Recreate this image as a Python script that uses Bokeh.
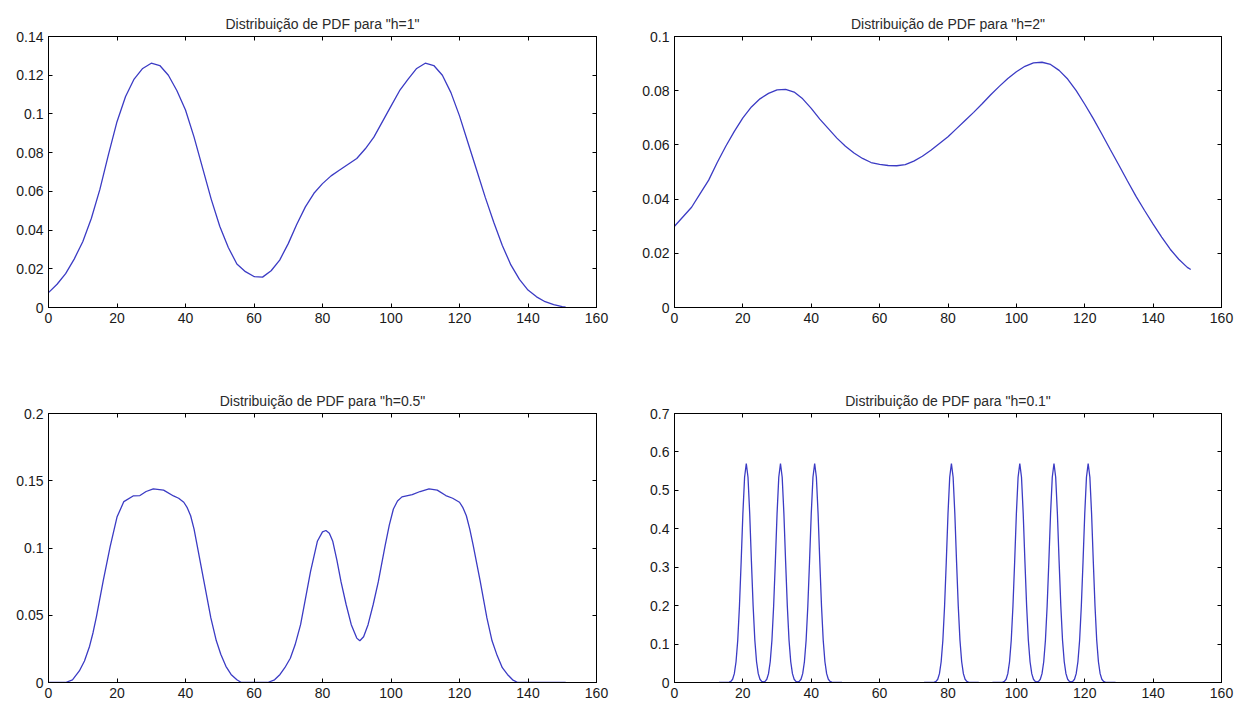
import numpy as np
from bokeh.plotting import figure
from bokeh.models import LinearAxis, FixedTicker, CustomJSTickFormatter, Range1d
from bokeh.layouts import gridplot
from bokeh.embed import file_html
from bokeh.resources import INLINE

# ---------------- data ----------------
x_ticks = [0, 20, 40, 60, 80, 100, 120, 140, 160]

titles = ['Distribuição de PDF para "h=1"', 'Distribuição de PDF para "h=2"',
          'Distribuição de PDF para "h=0.5"', 'Distribuição de PDF para "h=0.1"']

# h = 1
h1_x = [0, 2.5, 5, 7.5, 10, 12.5, 15, 17.5, 20, 22.5, 25, 27.5, 30, 32.5, 35, 37.5,
        40, 42.5, 45, 47.5, 50, 52.5, 55, 57.5, 60, 62.5, 65, 67.5, 70, 72.5, 75, 77.5,
        80, 82.5, 85, 87.5, 90, 92.5, 95, 97.5, 100, 102.5, 105, 107.5, 110, 112.5,
        115, 117.5, 120, 122.5, 125, 127.5, 130, 132.5, 135, 137.5, 140, 142.5, 145,
        147.5, 150, 151]
h1_y = [0.0077, 0.012, 0.0175, 0.025, 0.034, 0.046, 0.061, 0.079, 0.096, 0.109, 0.118,
        0.1235, 0.1262, 0.125, 0.120, 0.112, 0.102, 0.088, 0.072, 0.056, 0.042, 0.031,
        0.0225, 0.0185, 0.016, 0.0157, 0.019, 0.0245, 0.033, 0.043, 0.052, 0.059,
        0.064, 0.068, 0.071, 0.074, 0.077, 0.082, 0.088, 0.096, 0.104, 0.112, 0.118,
        0.1235, 0.1262, 0.125, 0.120, 0.111, 0.099, 0.085, 0.071, 0.057, 0.044, 0.032,
        0.022, 0.0145, 0.009, 0.0055, 0.003, 0.0015, 0.0005, 0.0002]

# h = 2
h2_x = [0, 2.5, 5, 7.5, 10, 12.5, 15, 17.5, 20, 22.5, 25, 27.5, 30, 32.5, 35, 37.5,
        40, 42.5, 45, 47.5, 50, 52.5, 55, 57.5, 60, 62.5, 65, 67.5, 70, 72.5, 75, 77.5,
        80, 82.5, 85, 87.5, 90, 92.5, 95, 97.5, 100, 102.5, 105, 107.5, 110, 112.5,
        115, 117.5, 120, 122.5, 125, 127.5, 130, 132.5, 135, 137.5, 140, 142.5, 145,
        147.5, 150, 151]
h2_y = [0.030, 0.0335, 0.037, 0.042, 0.047, 0.0535, 0.0595, 0.065, 0.070, 0.074, 0.077,
        0.079, 0.0803, 0.0805, 0.0795, 0.077, 0.0735, 0.0695, 0.066, 0.0625, 0.0595,
        0.057, 0.055, 0.0535, 0.0528, 0.0524, 0.0523, 0.0527, 0.054, 0.0558, 0.058,
        0.0605, 0.063, 0.066, 0.069, 0.072, 0.0752, 0.0785, 0.0816, 0.0845, 0.0870,
        0.0890, 0.0903, 0.0905, 0.0897, 0.0875, 0.0843, 0.0800, 0.0750, 0.0697, 0.0640,
        0.0582, 0.0525, 0.0467, 0.041, 0.0358, 0.0308, 0.026, 0.0215, 0.0178, 0.0148,
        0.014]

# h = 0.5
h05_x = [0, 5, 7, 9, 10.5, 12, 13, 14, 16, 18, 20, 22, 24.7, 26.7, 28.5, 30.6, 33.6,
         36.5, 38, 39.5, 40.5, 41.5, 42.5, 43.4, 45.4, 47.4, 49, 50.3, 51.8, 53.3, 55,
         56.3, 60, 64, 66, 67.6, 69, 70.6, 72, 73.6, 75, 76.5, 78.5, 80, 81, 82, 83,
         84.2, 85.4, 86.9, 88.4, 90, 90.9, 92, 93.3, 94.8, 96.3, 98.3, 99.5, 100.7,
         101.9, 103.2, 106.2, 108.5, 111.1, 113.5, 116, 118, 120, 121, 122, 123, 124,
         126, 128, 129.5, 131, 132.5, 134, 135.5, 137, 145, 151]
h05_y = [0, 0, 0.002, 0.0086, 0.016, 0.027, 0.037, 0.049, 0.076, 0.101, 0.123, 0.1345,
         0.1387, 0.139, 0.142, 0.144, 0.143, 0.1387, 0.137, 0.134, 0.130, 0.124, 0.114,
         0.102, 0.075, 0.048, 0.031, 0.021, 0.012, 0.006, 0.002, 0, 0, 0, 0.002, 0.006,
         0.011, 0.018, 0.028, 0.043, 0.062, 0.0825, 0.105, 0.112, 0.113, 0.111, 0.105,
         0.091, 0.075, 0.058, 0.043, 0.033, 0.031, 0.034, 0.043, 0.058, 0.075, 0.102,
         0.117, 0.129, 0.135, 0.138, 0.1397, 0.142, 0.144, 0.143, 0.139, 0.137, 0.134,
         0.130, 0.124, 0.114, 0.102, 0.076, 0.048, 0.031, 0.020, 0.011, 0.006, 0.002,
         0, 0, 0]

# h = 0.1 : identical narrow peaks at these centres
h01_centers = [21, 31, 41, 81, 101, 111, 121]
h01_offsets = [0, 0.5, 1, 1.5, 2, 2.5, 3, 3.5, 4, 4.5, 5, 5.5, 6, 6.5, 7, 7.5, 8]
h01_profile = [0.57, 0.534, 0.439, 0.315, 0.199, 0.110, 0.054, 0.023, 0.0084, 0.0027,
               0.0008, 0, 0, 0, 0, 0, 0]

y_ticks = [
    [0, 0.02, 0.04, 0.06, 0.08, 0.1, 0.12, 0.14],
    [0, 0.02, 0.04, 0.06, 0.08, 0.1],
    [0, 0.05, 0.1, 0.15, 0.2],
    [0, 0.1, 0.2, 0.3, 0.4, 0.5, 0.6, 0.7],
]

# build h=0.1 series on a fine grid from the profile
grid = np.round(np.arange(0, 151.01, 0.5), 2)
h01_y = np.full(grid.shape, np.nan)
prof = dict(zip(h01_offsets, h01_profile))
for i, gx in enumerate(grid):
    vals = [prof[abs(round(gx - c, 2))] for c in h01_centers if abs(gx - c) <= 8]
    if vals:
        h01_y[i] = sum(vals)
h01_x = grid

# ---------------- plotting ----------------
LINE = "#3b3bc4"
FONT = "Liberation Sans"
fmt_code = "return String(parseFloat(tick.toFixed(6)));"


def make(idx, xs, ys, width, height, bl, br, bt, bb):
    yt = y_ticks[idx]
    p = figure(width=width, height=height, output_backend="svg", toolbar_location=None,
               x_range=Range1d(0, 160), y_range=Range1d(0, yt[-1]),
               min_border_left=bl, min_border_right=br, min_border_top=bt,
               min_border_bottom=bb, background_fill_color="white",
               border_fill_color="white")
    p.title.text = titles[idx]
    p.title.align = "center"
    p.title.text_font = FONT
    p.title.text_font_size = "14px"
    p.title.text_font_style = "normal"
    p.title.text_color = "#2a2a2a"
    p.grid.visible = False
    p.outline_line_color = "black"
    p.outline_line_width = 1

    def style(ax, ticks, labels=True):
        ax.ticker = FixedTicker(ticks=ticks, minor_ticks=[])
        ax.axis_line_color = "black"
        ax.major_tick_line_color = "black"
        ax.major_tick_in = 4
        ax.major_tick_out = 0
        ax.minor_tick_line_color = None
        ax.major_label_text_font = FONT
        ax.major_label_text_color = "#1a1a1a"
        if labels:
            ax.formatter = CustomJSTickFormatter(code=fmt_code)
            ax.major_label_text_font_size = "14px"
            ax.major_label_standoff = 5
        else:
            ax.formatter = CustomJSTickFormatter(code="return '';")
            ax.major_label_text_font_size = "0px"
            ax.major_label_standoff = 0

    style(p.xaxis[0], x_ticks)
    style(p.yaxis[0], yt)
    top = LinearAxis()
    right = LinearAxis()
    style(top, x_ticks, labels=False)
    style(right, yt, labels=False)
    p.add_layout(top, "above")
    p.add_layout(right, "right")

    p.line(xs, ys, line_color=LINE, line_width=1.3)
    return p


p1 = make(0, h1_x, h1_y, 624, 370, 48, 28, 36, 63)
p2 = make(1, h2_x, h2_y, 624, 370, 50, 27, 36, 63)
p3 = make(2, h05_x, h05_y, 624, 337, 48, 28, 43, 25)
p4 = make(3, list(h01_x), list(h01_y), 624, 337, 50, 27, 43, 25)

grid_layout = gridplot([[p1, p2], [p3, p4]], toolbar_location=None)

open("out.html", "w").write(file_html(grid_layout, INLINE))
